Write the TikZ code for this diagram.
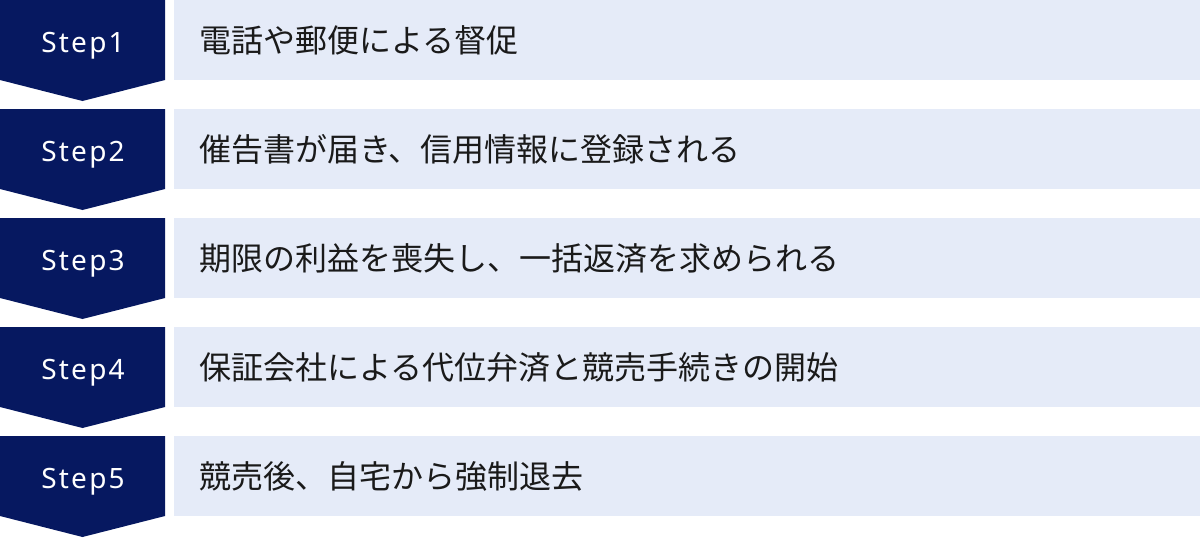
\documentclass[tikz,border=0pt]{standalone}
\usepackage{fontspec}
\setmainfont{Noto Sans CJK JP}
\newfontfamily\steplatin[LetterSpace=8]{Noto Sans}
\definecolor{navy}{HTML}{061860}
\definecolor{pale}{HTML}{E5EBF8}
\definecolor{ink}{HTML}{1A1A1A}
\tikzset{
  stepshape/.style={fill=navy},
  bar/.style={fill=pale},
  steplabel/.style={text=white, font=\steplatin\fontsize{28}{34}\selectfont, anchor=base, inner sep=0pt},
  itemtext/.style={text=ink, font=\fontsize{32}{38}\selectfont, anchor=west, inner sep=0pt}
}
\begin{document}
\begin{tikzpicture}[x=1pt,y=-1pt]
\useasboundingbox (0,0) rectangle (1200,538);
\foreach \i/\t in {0/電話や郵便による督促,1/催告書が届き、信用情報に登録される,2/期限の利益を喪失し、一括返済を求められる,3/保証会社による代位弁済と競売手続きの開始,4/競売後、自宅から強制退去}{
  \pgfmathsetmacro{\y}{109*\i}
  \fill[stepshape] (0,\y) -- (165,\y) -- (165,\y+80) -- (82.5,\y+101) -- (0,\y+80) -- cycle;
  \fill[bar] (174,\y) rectangle (1200,\y+80);
  \pgfmathtruncatemacro{\n}{\i+1}
  \node[steplabel] (s\n) at (83,\y+52) {Step\n};
  \node[itemtext] (t\n) at (199,\y+40) {\t};
}
\end{tikzpicture}
\end{document}
